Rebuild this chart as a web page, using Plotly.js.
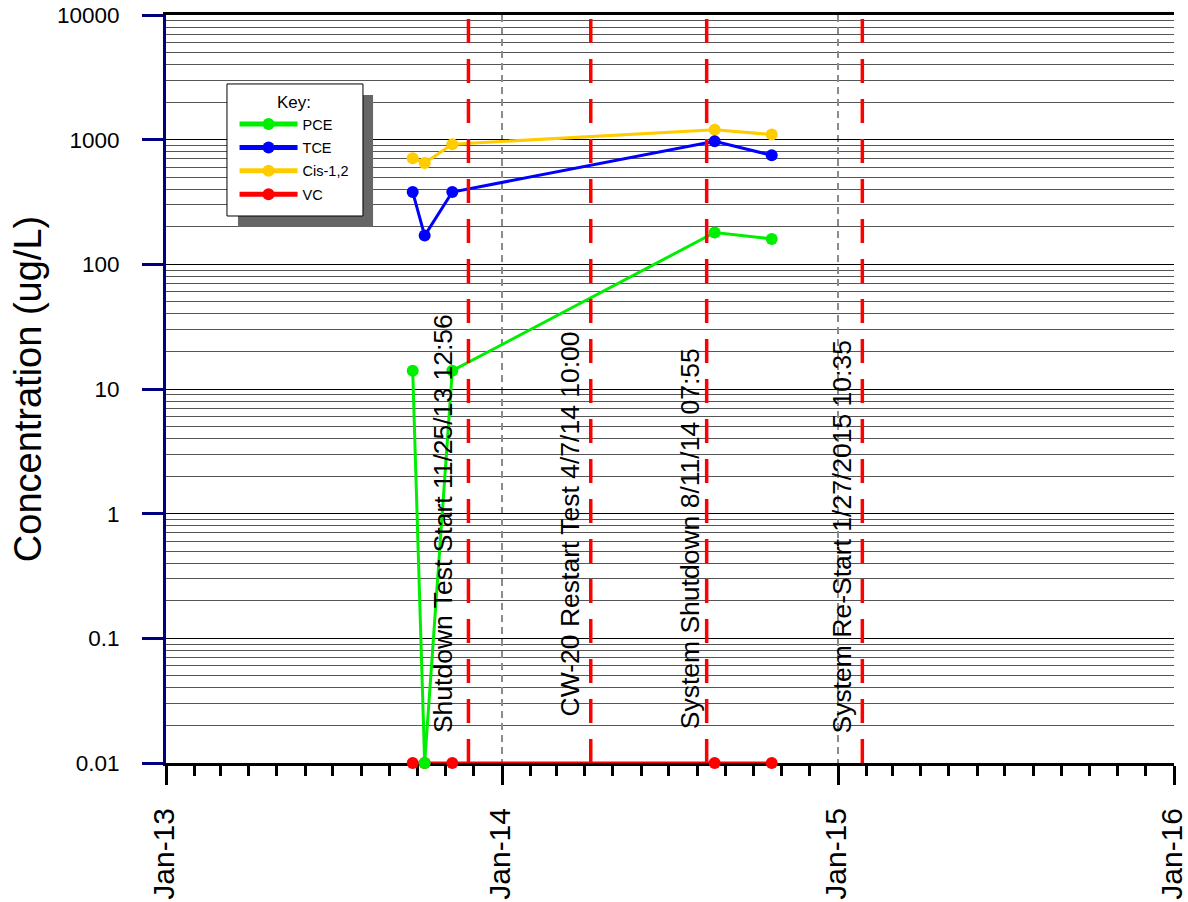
<!DOCTYPE html>
<html>
<head>
<meta charset="utf-8">
<script src="https://cdn.plot.ly/plotly-3.0.1.min.js"></script>
<style>html,body{margin:0;padding:0;background:#fff;}#chart{width:1188px;height:902px;}</style>
</head>
<body>
<div id="chart"></div>
<script>
// ---- data ----
const sampleDates = ['2013-09-26', '2013-10-09', '2013-11-08', '2014-08-20', '2014-10-21'];
const pce = [14, 0.01, 14, 180, 160];
const tce = [380, 170, 380, 970, 750];
const cis = [710, 650, 920, 1200, 1100];
const vc  = [0.01, 0.01, 0.01, 0.01, 0.01];

const eventDates  = ['2013-11-25 12:56', '2014-04-07 10:00', '2014-08-11 07:55', '2015-01-27 10:35'];
const eventLabels = ['Shutdown Test Start 11/25/13 12:56', 'CW-20 Restart Test 4/7/14 10:00',
                     'System Shutdown 8/11/14 07:55', 'System Re-Start 1/27/2015 10:35'];
const eventLabelY = [0.320, 0.320, 0.300, 0.302];
const eventShift  = [-26, -21, -17, -20];

const xTickVals = ['2013-01-01', '2014-01-01', '2015-01-01', '2016-01-01'];
const xTickText = ['Jan-13', 'Jan-14', 'Jan-15', 'Jan-16'];
const yTickVals = [0.01, 0.1, 1, 10, 100, 1000, 10000];
const yTickText = ['0.01', '0.1', '1', '10', '100', '1000', '10000'];

const FONT = '"Liberation Sans", Arial, sans-serif';

function series(name, y, color, rank) {
  return {
    type: 'scatter', mode: 'lines+markers', name: name, legendgroup: name, legendrank: rank,
    x: sampleDates, y: y, cliponaxis: false,
    line: {color: color, width: 3},
    marker: {color: color, size: 12}
  };
}

const traces = [
  series('VC', vc, '#ff0000', 4),
  series('Cis-1,2', cis, '#ffcc00', 3),
  series('TCE', tce, '#0000ff', 2),
  series('PCE', pce, '#00ee00', 1)
];

const shapes = eventDates.map(d => ({
  type: 'line', xref: 'x', yref: 'paper', x0: d, x1: d, y0: 0, y1: 1,
  line: {color: '#ff0000', width: 3.5, dash: '24px,16px'}, layer: 'above'
}));
// legend shadow and box (px -> paper: x=(px-166)/1008, y=(763-px)/748)
shapes.push({type: 'rect', xref: 'paper', yref: 'paper',
  x0: 0.0714, x1: 0.2054, y0: 0.7166, y1: 0.893,
  fillcolor: '#666666', line: {width: 0}, layer: 'above'});
shapes.push({type: 'rect', xref: 'paper', yref: 'paper',
  x0: 0.0605, x1: 0.1954, y0: 0.7313, y1: 0.9078,
  fillcolor: '#ffffff', line: {color: '#000', width: 1}, layer: 'above'});

const annotations = eventDates.map((d, i) => ({
  x: d, xref: 'x', y: eventLabelY[i], yref: 'paper',
  text: eventLabels[i], textangle: -90, showarrow: false,
  xanchor: 'center', yanchor: 'middle', xshift: eventShift[i],
  font: {family: FONT, size: 26.5, color: '#000'}
}));

const layout = {
  width: 1188, height: 902,
  margin: {l: 166, r: 14, t: 15, b: 139},
  paper_bgcolor: '#fff', plot_bgcolor: '#fff',
  font: {family: FONT, color: '#000'},
  showlegend: true,
  legend: {
    x: 0.068, y: 0.905, xanchor: 'left', yanchor: 'top',
    bgcolor: 'rgba(0,0,0,0)', borderwidth: 0,
    traceorder: 'grouped', tracegroupgap: 1.5,
    itemwidth: 58,
    font: {family: FONT, size: 14.5, color: '#000'},
    title: {text: 'Key:', side: 'top center', font: {family: FONT, size: 17, color: '#000'}},
    itemsizing: 'constant'
  },
  xaxis: {
    type: 'date', range: ['2013-01-01', '2016-01-01'],
    tickmode: 'array', tickvals: xTickVals, ticktext: xTickText,
    tickangle: -90, tickfont: {family: FONT, size: 30, color: '#000'},
    ticks: 'outside', ticklen: 19, tickwidth: 3, tickcolor: '#000',
    ticklabelstandoff: 11, ticklabeloverflow: 'allow', ticklabelshift: -2,
    showline: true, linecolor: '#000', linewidth: 3, mirror: true,
    showgrid: true, gridcolor: '#8c8c8c', gridwidth: 2, griddash: '7px,5px',
    zeroline: false, layer: 'below traces',
    minor: {tick0: '2013-01-01', dtick: 'M1', ticks: 'outside', ticklen: 10, tickwidth: 3, tickcolor: '#000', showgrid: false}
  },
  yaxis: {
    type: 'log', range: [-2, 4],
    tickmode: 'array', tickvals: yTickVals, ticktext: yTickText,
    tickfont: {family: FONT, size: 22.5, color: '#000'},
    ticks: 'outside', ticklen: 21, tickwidth: 3, tickcolor: '#000080',
    ticklabelstandoff: 18,
    showline: true, linecolor: '#000080', linewidth: 3,
    showgrid: true, gridcolor: '#000', gridwidth: 1,
    zeroline: false, layer: 'below traces',
    title: {text: 'Concentration (ug/L)', font: {family: FONT, size: 38, color: '#000'}, standoff: 4},
    minor: {dtick: 'D1', showgrid: true, gridcolor: '#555', gridwidth: 1, ticks: ''}
  },
  shapes: shapes,
  annotations: annotations
};

Plotly.newPlot('chart', traces, layout, {displayModeBar: false, staticPlot: true});
</script>
</body>
</html>
